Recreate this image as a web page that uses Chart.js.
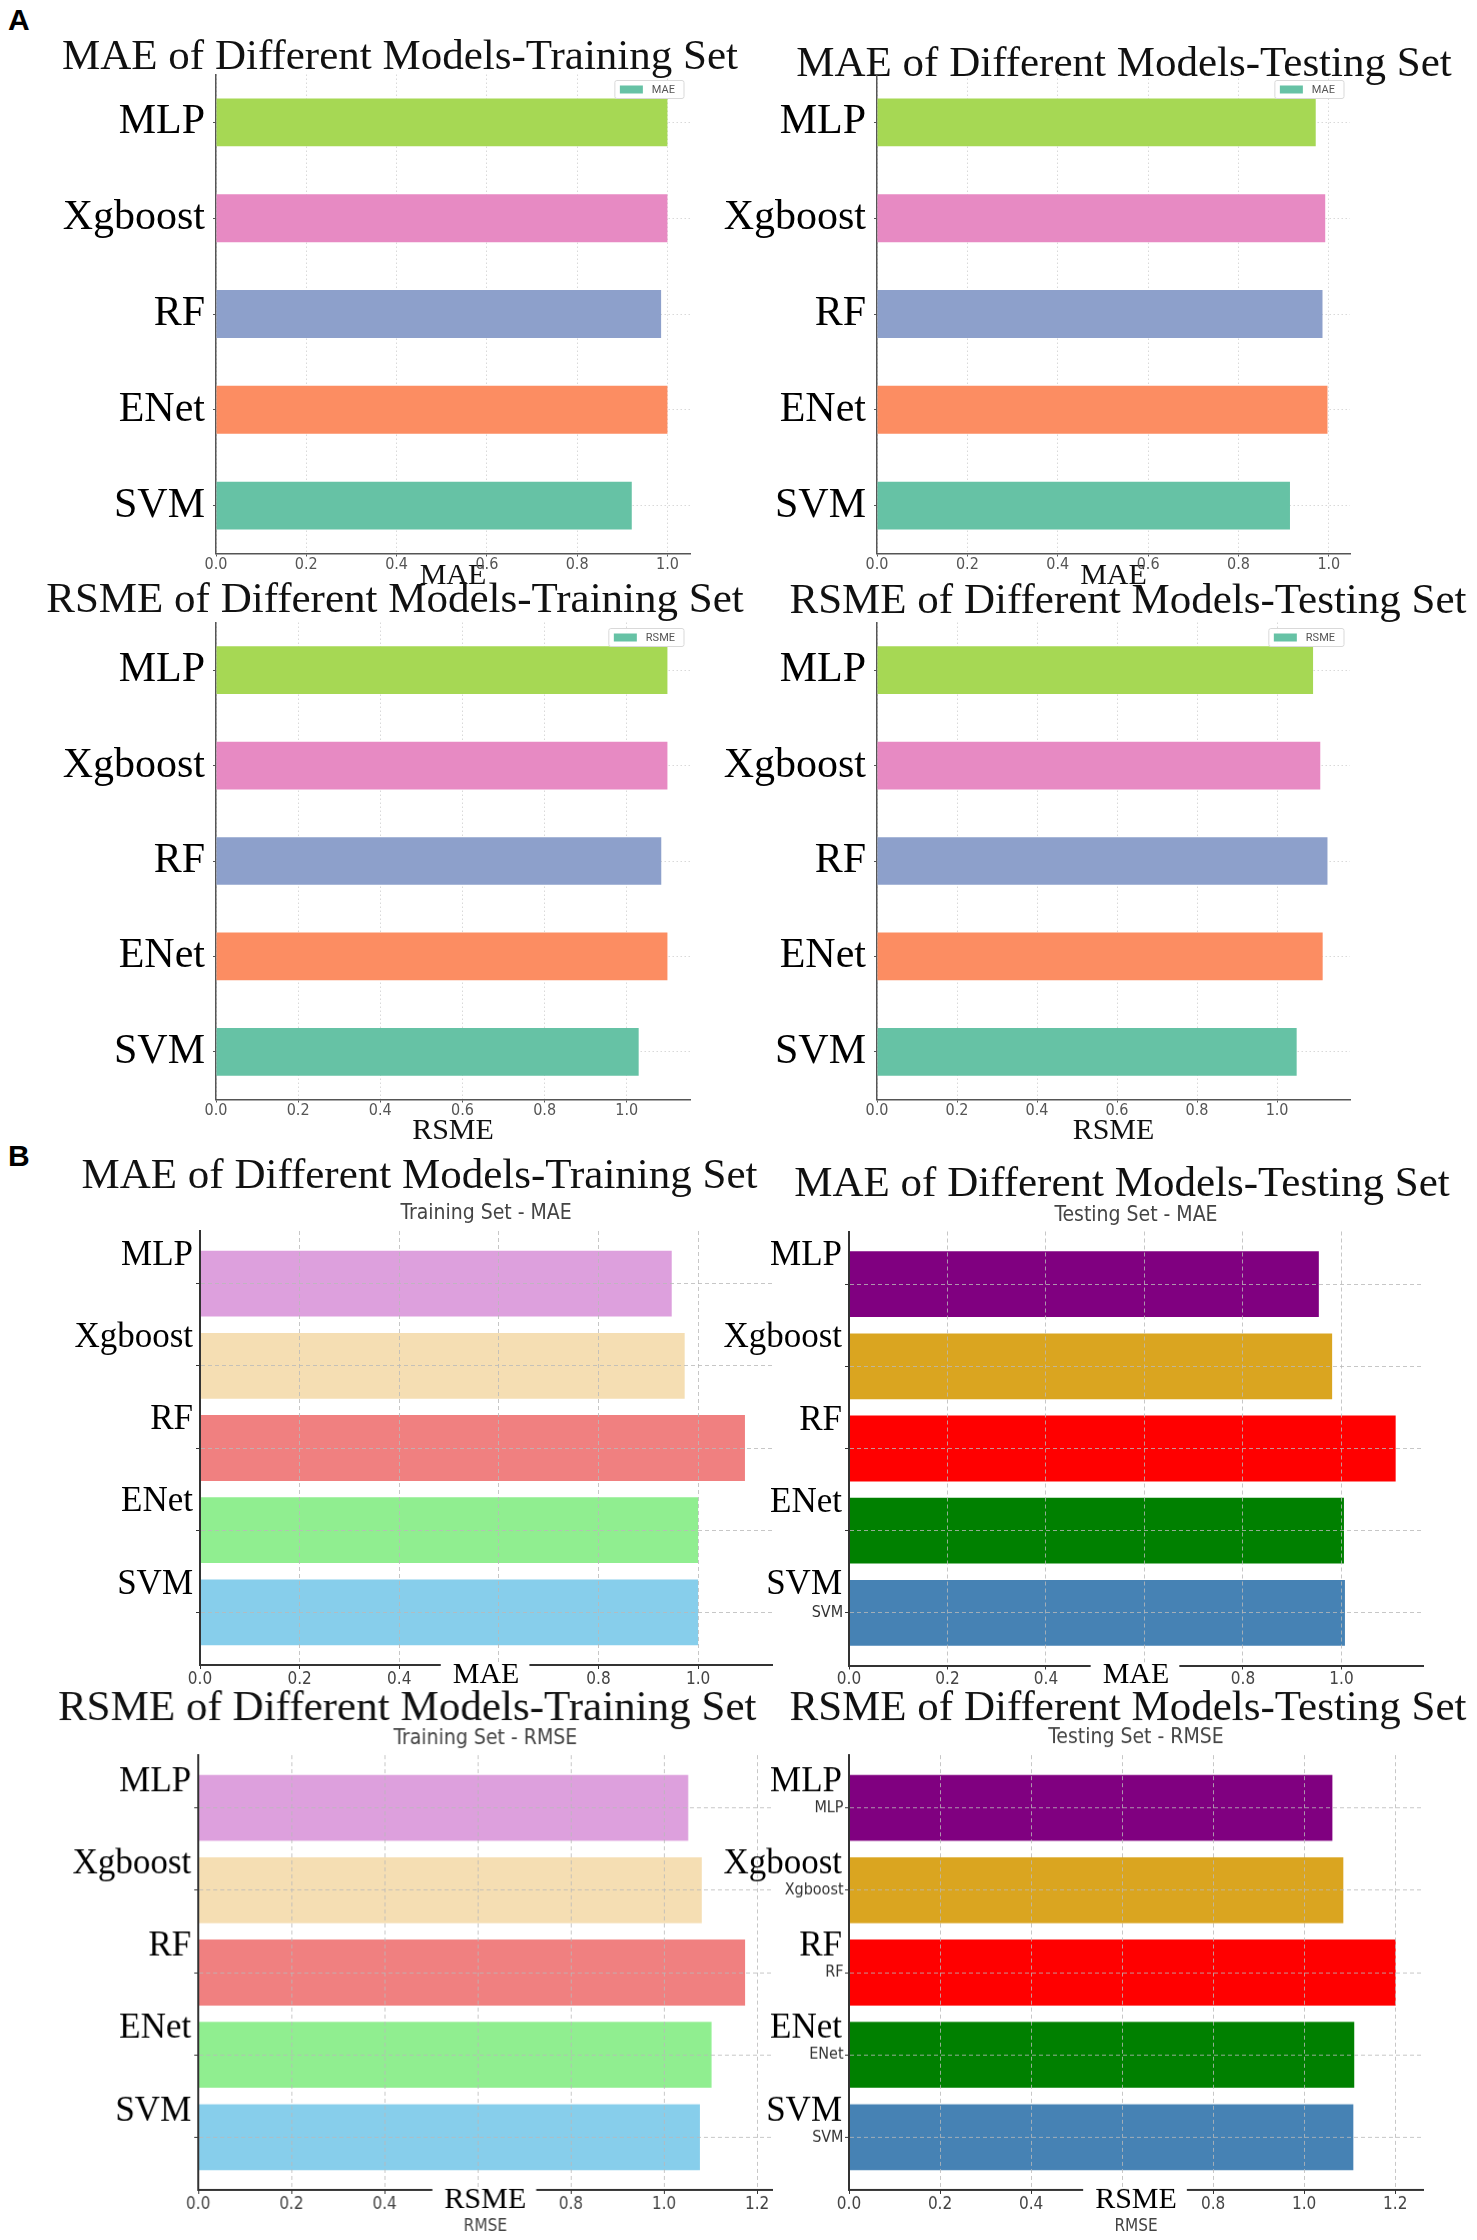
<!DOCTYPE html>
<html>
<head>
<meta charset="utf-8">
<title>MAE and RSME of Different Models</title>
<script src="https://cdn.jsdelivr.net/npm/chart.js@4.4.1/dist/chart.umd.min.js"></script>
<style>
  html, body { margin: 0; padding: 0; background: #fff; }
  body { position: relative; width: 1477px; height: 2240px; overflow: hidden; }
  .panel { position: absolute; }
  .tag { position: absolute; left: 8px; font: bold 30px/1 "Liberation Sans", Arial, sans-serif; color: #000; }
</style>
</head>
<body>
<div class="tag" style="top:5px">A</div>
<div class="tag" style="top:1141px">B</div>
<div id="charts"></div>
<script>
// models, top to bottom
var models = ["MLP", "Xgboost", "RF", "ENet", "SVM"];

// panel A values
var maeTrainA  = [1.000, 1.000, 0.986, 1.000, 0.921];
var maeTestA   = [0.971, 0.992, 0.986, 0.997, 0.914];
var rsmeTrainA = [1.099, 1.099, 1.084, 1.099, 1.029];
var rsmeTestA  = [1.090, 1.108, 1.126, 1.114, 1.049];

// panel B values
var maeTrainB  = [0.947, 0.973, 1.094, 1.000, 1.000];
var maeTestB   = [0.954, 0.981, 1.110, 1.005, 1.007];
var rmseTrainB = [1.052, 1.081, 1.174, 1.102, 1.077];
var rmseTestB  = [1.062, 1.086, 1.201, 1.110, 1.108];

var setTwo = ["#a6d854", "#e78ac3", "#8da0cb", "#fc8d62", "#66c2a5"];
var pastel = ["#dda0dd", "#f5deb3", "#f08080", "#90ee90", "#87ceeb"];
var strong = ["#800080", "#daa520", "#ff0000", "#008000", "#4682b4"];

var serif = "'Liberation Serif', 'Times New Roman', serif";
var narrow = "'DejaVu Sans Condensed', Roboto, sans-serif";
var TITLE = 43, SUB = 21, PAD_L = 10, PAD_R = 10, YW_A = 180, YW_B = 160;

Chart.defaults.font.family = narrow;

// small framed legend in the top right corner of the plot
var legendBox = {
  id: 'legendBox',
  afterDraw: function (chart, args, o) {
    if (!o || !o.text) return;
    var ctx = chart.ctx, a = chart.chartArea;
    ctx.save();
    ctx.font = '11px Roboto, sans-serif';
    var w = 46 + ctx.measureText(o.text).width, h = 18;
    var x = a.right - 6 - w, y = a.top + 6;
    ctx.fillStyle = 'rgba(255,255,255,0.9)';
    ctx.strokeStyle = '#d9d9d9';
    ctx.lineWidth = 1;
    ctx.beginPath();
    if (ctx.roundRect) ctx.roundRect(x, y, w, h, 2); else ctx.rect(x, y, w, h);
    ctx.fill();
    ctx.stroke();
    ctx.fillStyle = o.color;
    ctx.fillRect(x + 5, y + 5, 23, 8);
    ctx.fillStyle = '#555';
    ctx.textBaseline = 'middle';
    ctx.fillText(o.text, x + 37, y + h / 2 + 0.5);
    ctx.restore();
  }
};

// the big serif axis name pasted over the tick row (panel B)
var axisStamp = {
  id: 'axisStamp',
  afterDraw: function (chart, args, o) {
    if (!o || !o.text) return;
    var ctx = chart.ctx, a = chart.chartArea;
    ctx.save();
    ctx.font = '30px ' + serif;
    var tw = ctx.measureText(o.text).width;
    var cx = (a.left + a.right) / 2;
    ctx.fillStyle = '#fff';
    ctx.fillRect(cx - tw / 2 - 12, a.bottom - 3, tw + 22, 26);
    ctx.fillStyle = '#000';
    ctx.textAlign = 'center';
    ctx.textBaseline = 'middle';
    ctx.fillText(o.text, cx, a.bottom + 10);
    ctx.restore();
  }
};

var panels = [
  {values: maeTrainA, colors: setTwo, title: "MAE of Different Models-Training Set", xTitle: "MAE", legend: "MAE",
   left: 216, right: 690, top: 74, bottom: 553, titleCx: 400, titleY: 57, xh: 38},
  {values: maeTestA, colors: setTwo, title: "MAE of Different Models-Testing Set", xTitle: "MAE", legend: "MAE",
   left: 877, right: 1350, top: 74, bottom: 553, titleCx: 1124, titleY: 64, xh: 38},
  {values: rsmeTrainA, colors: setTwo, title: "RSME of Different Models-Training Set", xTitle: "RSME", legend: "RSME",
   left: 216, right: 690, top: 622, bottom: 1099, titleCx: 395, titleY: 600, xh: 47},
  {values: rsmeTestA, colors: setTwo, title: "RSME of Different Models-Testing Set", xTitle: "RSME", legend: "RSME",
   left: 877, right: 1350, top: 622, bottom: 1099, titleCx: 1128, titleY: 601, xh: 47},
  {values: maeTrainB, colors: pastel, title: "MAE of Different Models-Training Set", sub: "Training Set - MAE", stamp: "MAE",
   left: 199.5, right: 771.7, top: 1231, bottom: 1665, titleCx: 419, titleY: 1176.5, subY: 1214, xh: 40, shift: -28},
  {values: maeTestB, colors: strong, title: "MAE of Different Models-Testing Set", sub: "Testing Set - MAE", stamp: "MAE",
   left: 849, right: 1423, top: 1231, bottom: 1665, titleCx: 1122, titleY: 1184, subY: 1215, xh: 40, shift: -28, small: ["SVM"]},
  {values: rmseTrainB, colors: pastel, title: "RSME of Different Models-Training Set", sub: "Training Set - RMSE", stamp: "RSME", xTitle: "RMSE",
   left: 198.3, right: 771.7, top: 1755, bottom: 2189, titleCx: 407, titleY: 1708.5, subY: 1739, xh: 45.5, shift: -26},
  {values: rmseTestB, colors: strong, title: "RSME of Different Models-Testing Set", sub: "Testing Set - RMSE", stamp: "RSME", xTitle: "RMSE",
   left: 849, right: 1423, top: 1755, bottom: 2189, titleCx: 1128, titleY: 1708.5, subY: 1738, xh: 45.5, shift: -26, small: models}
];

function makeChart(p) {
  var isB = !!p.sub;
  var yw = isB ? YW_B : YW_A;
  var yr = Math.max(0, 2 * p.titleCx - (p.left - yw) - p.right);
  var T = p.titleY - TITLE / 2;
  var L = p.left - yw - PAD_L;
  var W = PAD_L + yw + (p.right - p.left) + yr + PAD_R;
  var H = p.bottom - T + p.xh;

  var box = document.createElement('div');
  box.className = 'panel';
  box.style.cssText = 'left:' + L + 'px;top:' + T + 'px;width:' + W + 'px;height:' + H + 'px';
  var cv = document.createElement('canvas');
  box.appendChild(cv);
  document.getElementById('charts').appendChild(box);

  var subTop = isB ? p.subY - SUB / 2 : p.top;
  var pad = isB ? 0.64 : 0.5;
  var yMin = -pad, yMax = models.length - 1 + pad;
  var ink = isB ? '#333' : '#555';
  var gridColor = isB ? 'rgba(185,185,185,0.8)' : '#d9d9d9';
  var gridDash = isB ? [4, 3] : [1.5, 2.5];
  // panel B draws its grid over the bars; the spines go on the same layer, after the grid
  var gz = isB ? 1 : -1, bz = isB ? 1 : 0;
  var rows = function (s) { s.ticks = models.map(function (m, i) { return {value: i}; }); };

  var scales = {
    x: {
      type: 'linear', min: 0, max: Math.max.apply(null, p.values) * 1.05,
      grid: {color: gridColor, z: gz, tickLength: isB ? 4 : 3, tickColor: ink, tickWidth: 1},
      border: {color: ink, width: isB ? 2 : 1.5, dash: gridDash, z: bz},
      ticks: {
        stepSize: 0.2, includeBounds: false, color: isB ? '#444' : '#555', padding: isB ? 2 : 0,
        font: {size: isB ? 17 : 16, lineHeight: 1},
        callback: function (v) { return v.toFixed(1); }
      },
      title: {
        display: !!p.xTitle, text: p.xTitle || '', padding: 0,
        color: isB ? '#444' : '#111',
        font: isB ? {family: narrow, size: 17, lineHeight: 1} : {family: serif, size: 30, lineHeight: 1}
      },
      afterFit: function (s) { s.height = p.xh; }
    },
    y: {
      type: 'linear', position: 'left', min: yMin, max: yMax, reverse: true, offset: false,
      afterBuildTicks: rows,
      grid: {color: gridColor, z: gz, offset: false, tickLength: isB ? 4 : 3, tickColor: ink, tickWidth: 1},
      border: {color: ink, width: isB ? 2 : 1.5, dash: gridDash, z: bz},
      ticks: {
        autoSkip: false, color: '#000', padding: isB ? 3 : 8, labelOffset: p.shift || 0,
        font: {family: serif, size: isB ? 35 : 42, lineHeight: 1},
        callback: function (v) { return models[v]; }
      },
      afterFit: function (s) { s.width = yw; }
    },
    yr: {
      type: 'linear', position: 'right',
      grid: {display: false}, border: {display: false}, ticks: {display: false},
      afterFit: function (s) { s.width = yr; }
    }
  };
  if (isB) {
    // subtitle, centred over the plot
    scales.xt = {
      type: 'linear', position: 'top',
      grid: {display: false}, border: {display: false}, ticks: {display: false},
      title: {display: true, text: p.sub, color: '#444', padding: 0, font: {family: narrow, size: SUB, lineHeight: 1}},
      afterFit: function (s) { s.height = p.top - subTop; }
    };
  }
  if (p.small) {
    // the plain matplotlib labels still showing under the serif ones
    scales.ys = {
      type: 'linear', position: {x: -0.012}, min: yMin, max: yMax, reverse: true, offset: false,
      afterBuildTicks: rows,
      grid: {display: false, drawTicks: false}, border: {display: false},
      ticks: {
        autoSkip: false, color: '#333', padding: 5, font: {size: 16, lineHeight: 1},
        callback: function (v) { return p.small.indexOf(models[v]) >= 0 ? models[v] : ''; }
      }
    };
  }

  new Chart(cv, {
    type: 'bar',
    data: {
      datasets: [{
        label: p.legend || p.sub,
        data: p.values.map(function (v, i) { return {x: v, y: i}; }),
        backgroundColor: p.colors,
        borderWidth: 0,
        barPercentage: isB ? 0.8 : 0.5,
        categoryPercentage: 1
      }]
    },
    options: {
      indexAxis: 'y',
      responsive: true,
      maintainAspectRatio: false,
      animation: false,
      layout: {padding: {left: PAD_L, right: PAD_R, top: 0, bottom: 0}},
      scales: scales,
      plugins: {
        legend: {display: false},
        tooltip: {enabled: false},
        title: {
          display: true, text: p.title, align: 'center', color: '#111',
          font: {family: serif, size: TITLE, weight: 'normal', lineHeight: 1},
          padding: {top: 0, bottom: subTop - T - TITLE}
        },
        legendBox: {text: p.legend || '', color: p.colors[4]},
        axisStamp: {text: p.stamp || ''}
      }
    },
    plugins: [legendBox, axisStamp]
  });
}

panels.forEach(makeChart);
</script>
</body>
</html>
